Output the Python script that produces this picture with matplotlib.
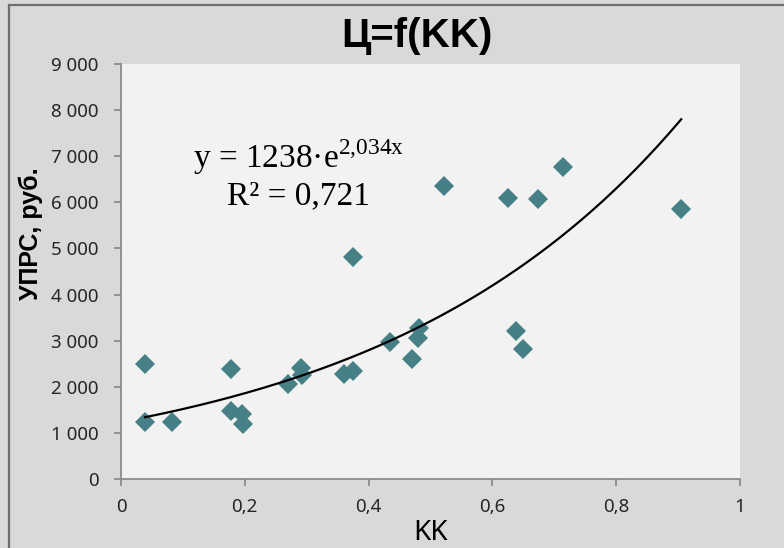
import numpy as np
import matplotlib
matplotlib.use('Agg')
import matplotlib.pyplot as plt
from matplotlib.lines import Line2D
from matplotlib.ticker import FuncFormatter

# KK (x) and УПРС, руб. (y)
kk = [0.039, 0.039, 0.083, 0.178, 0.178, 0.196, 0.197, 0.269, 0.290, 0.292,
      0.360, 0.375, 0.375, 0.435, 0.470, 0.481, 0.480, 0.522, 0.626, 0.638,
      0.649, 0.673, 0.714, 0.905]
uprs = [2500, 1240, 1240, 2390, 1480, 1400, 1200, 2070, 2400, 2250,
        2280, 2350, 4810, 2980, 2610, 3270, 3060, 6350, 6100, 3210,
        2830, 6080, 6760, 5850]

# exponential trendline as printed on the chart
trend_a = 1238
trend_b = 2.034

x_ticks = [0, 0.2, 0.4, 0.6, 0.8, 1]
y_ticks = [0, 1000, 2000, 3000, 4000, 5000, 6000, 7000, 8000, 9000]

plt.rcParams['mathtext.fontset'] = 'custom'
plt.rcParams['mathtext.rm'] = 'Liberation Serif'

fig = plt.figure(figsize=(7.84, 5.48), dpi=100)
fig.patch.set_facecolor('#d9d9d9')
ax = fig.add_axes([121 / 784, 1 - 479 / 548, 619 / 784, 415 / 548])
ax.set_facecolor('#f2f2f2')

ax.plot(kk, uprs, ls='none', marker='D', ms=10.5, mew=0, color='#467f86', zorder=2)

xs = np.linspace(min(kk), max(kk), 200)
ax.plot(xs, trend_a * np.exp(trend_b * xs), color='black', lw=1.6, zorder=3)

ax.set_xlim(0, 1)
ax.set_ylim(0, 9000)
ax.set_xticks(x_ticks)
ax.set_yticks(y_ticks)
ax.xaxis.set_major_formatter(FuncFormatter(lambda v, p: ('%g' % v).replace('.', ',')))
ax.yaxis.set_major_formatter(FuncFormatter(lambda v, p: '{:,}'.format(int(v)).replace(',', ' ')))

for s in ['top', 'right']:
    ax.spines[s].set_visible(False)
for s in ['left', 'bottom']:
    ax.spines[s].set_color('#8c8c8c')
    ax.spines[s].set_linewidth(1.3)
ax.tick_params(direction='out', length=5, width=1.3, color='#8c8c8c',
               labelsize=13.5, labelcolor='#262626')
ax.tick_params(axis='y', pad=11)
ax.tick_params(axis='x', pad=9)
for lab in ax.get_xticklabels() + ax.get_yticklabels():
    lab.set_family('Noto Sans')

fig.text(417 / 784, 1 - 36 / 548, 'Ц=f(KK)', ha='center', va='center',
         fontsize=29, fontweight='bold', family='Liberation Sans')
fig.text(431 / 784, 1 - 533 / 548, 'KK', ha='center', va='center',
         fontsize=20, family='Noto Sans')
fig.text(31 / 784, 1 - 234 / 548, 'УПРС, руб.', ha='center', va='center',
         rotation=90, fontsize=18, fontweight='bold', family='Liberation Sans')

# trendline equation, two lines
fig.text(299 / 784, 1 - 157 / 548, r'y = 1238·e$^{\mathrm{2{,}034x}}$', ha='center', va='center',
         fontsize=24, family='Liberation Serif')
fig.text(298 / 784, 1 - 196 / 548, 'R² = 0,721', ha='center', va='center',
         fontsize=24, family='Liberation Serif')

# outer chart border (only top and left visible in the crop)
fig.add_artist(Line2D([9 / 784, 9 / 784], [0, 1 - 5 / 548], color='#6e6e6e', lw=1.6))
fig.add_artist(Line2D([9 / 784, 1], [1 - 5 / 548, 1 - 5 / 548], color='#6e6e6e', lw=1.6))

fig.savefig('out.png', dpi=100, facecolor=fig.get_facecolor())
